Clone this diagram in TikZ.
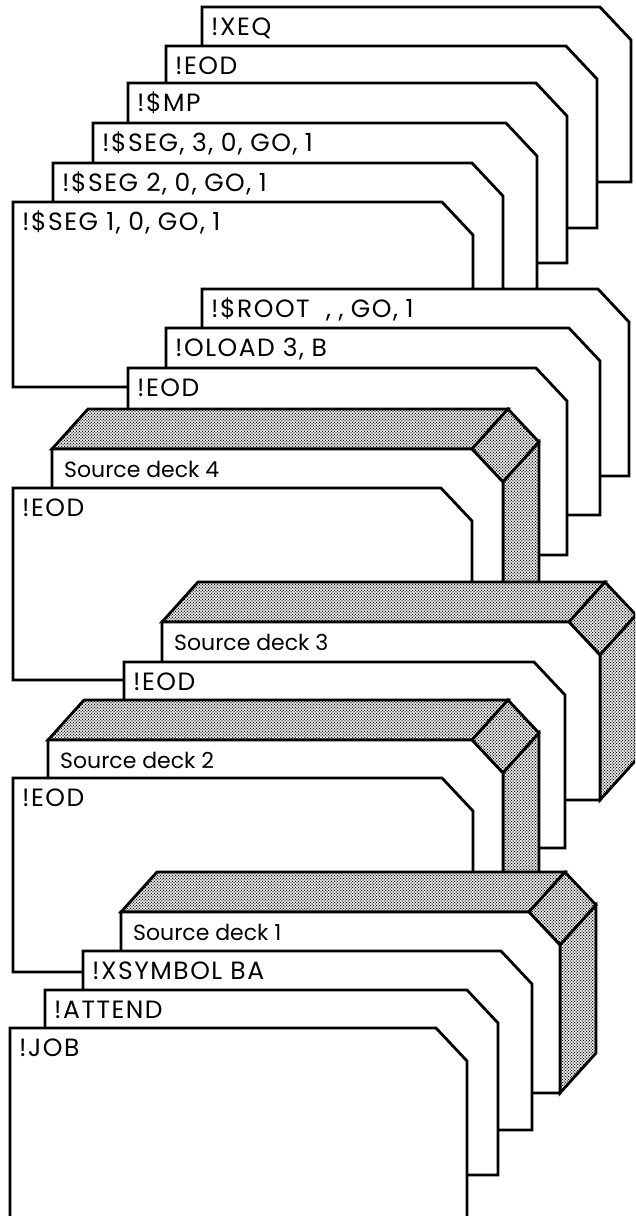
\documentclass[tikz,border=0pt]{standalone}
\usepackage{fontspec}
\setmainfont{Poppins}
\newfontfamily\cardfont{Poppins}[LetterSpace=6]
\usepackage{tikz}
\usetikzlibrary{patterns}
\pgfdeclarepatternformonly{deckdots}{\pgfqpoint{-1pt}{-1pt}}{\pgfqpoint{4pt}{4pt}}{\pgfqpoint{3pt}{3pt}}{%
  \pgfpathcircle{\pgfqpoint{0pt}{0pt}}{0.75pt}%
  \pgfpathcircle{\pgfqpoint{1.5pt}{1.5pt}}{0.75pt}%
  \pgfusepath{fill}}
\newcommand{\csep}{,\hspace{.3em}}

% card outline with clipped corner: left, top, right, bottom
\newcommand{\cardshape}[4]{%
  \draw[cardline] (#1,#4) -- (#1,#2) -- ({#3-31},#2) -- (#3,{#2+33}) -- (#3,#4) -- cycle;}
% one control card: left, top, right, bottom, name, text
\newcommand{\ctlcard}[6]{%
  \cardshape{#1}{#2}{#3}{#4}
  \node[cardtext] (#5) at ({#1+9},{#2+28}) {#6};}
% a source deck drawn as a block
\newcommand{\srcdeck}[6]{%
  \draw[deckface] (#1,#2) -- ({#1+36},{#2-40}) -- ({#3+5},{#2-40}) -- ({#3-31},#2) -- cycle;
  \draw[deckface] ({#3-31},#2) -- ({#3+5},{#2-40}) -- ({#3+36},{#2-7}) -- (#3,{#2+33}) -- cycle;
  \draw[deckface] (#3,{#2+33}) -- ({#3+36},{#2-7}) -- ({#3+36},{#4-40}) -- (#3,#4) -- cycle;
  \cardshape{#1}{#2}{#3}{#4}
  \node[decktext] (#5) at ({#1+12},{#2+28}) {#6};}

\begin{document}
\begin{tikzpicture}[x=1pt, y=-1pt,
    cardline/.style={draw=black, fill=white, line width=2.8pt, line join=miter},
    deckface/.style={draw=black, line width=2.8pt, preaction={fill=white}, pattern=deckdots},
    cardtext/.style={anchor=base west, inner sep=0pt, font=\cardfont\fontsize{25}{25}\selectfont},
    decktext/.style={anchor=base west, inner sep=0pt, font=\fontsize{22}{22}\selectfont}
  ]
  \fill[white] (0,0) rectangle (635,1216);
  \useasboundingbox (0,0) rectangle (635,1216);
  \clip (0,0) rectangle (635,1216);

  \ctlcard{202}{7}{631}{182}{xeq}{!XEQ}
  \ctlcard{166}{46}{597}{228}{eodf}{!EOD}
  \ctlcard{128}{83}{567}{263}{mp}{!\$MP}
  \ctlcard{93}{123}{537}{320}{segc}{!\$SEG\csep 3\csep 0\csep GO\csep 1}
  \ctlcard{53}{163}{503}{340}{segb}{!\$SEG 2\csep 0\csep GO\csep 1}
  \ctlcard{13}{202}{473}{387}{sega}{!\$SEG 1\csep 0\csep GO\csep 1}
  \ctlcard{202}{289}{629}{476}{root}{!\$ROOT\ \ {,}\hspace{.3em}\csep GO\csep 1}
  \ctlcard{166}{328}{600}{515}{oload}{!OLOAD 3\csep B}
  \ctlcard{128}{368}{567}{555}{eode}{!EOD}

  \srcdeck{52}{449}{503}{660}{deckd}{Source deck 4}
  \ctlcard{13}{488}{472}{680}{eodd}{!EOD}
  \srcdeck{162}{622}{600}{800}{deckc}{Source deck 3}
  \ctlcard{124}{662}{565}{848}{eodc}{!EOD}
  \srcdeck{48}{740}{503}{960}{deckb}{Source deck 2}
  \ctlcard{13}{778}{473}{972}{eodb}{!EOD}
  \srcdeck{121}{912}{560}{1093}{decka}{Source deck 1}

  \ctlcard{83}{951}{532}{1130}{xsym}{!XSYMBOL BA}
  \ctlcard{45}{990}{498}{1175}{attend}{!ATTEND}
  \ctlcard{10}{1028}{467}{1240}{job}{!JOB}
\end{tikzpicture}
\end{document}
